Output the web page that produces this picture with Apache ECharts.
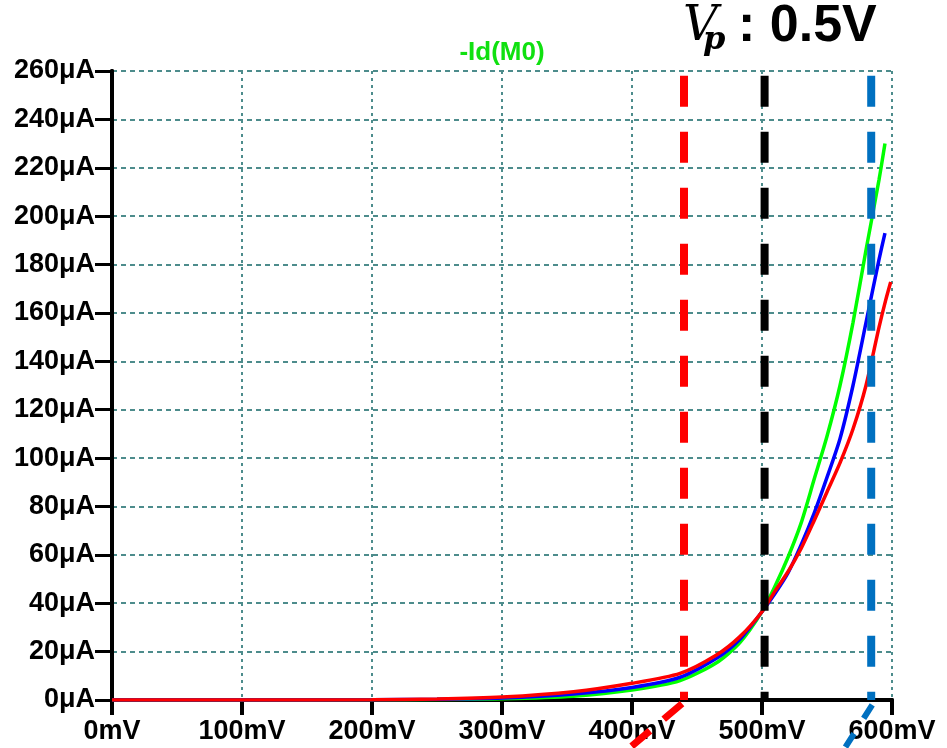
<!DOCTYPE html>
<html>
<head>
<meta charset="utf-8">
<script src="https://cdn.jsdelivr.net/npm/echarts@6/dist/echarts.min.js"></script>
<style>
  html, body { margin: 0; padding: 0; background: #fff; }
  #vis { width: 947px; height: 748px; }
</style>
</head>
<body>
<div id="vis"></div>
<script>
// drain current -Id(M0) vs gate voltage, three corners
const xTicksMv = [0, 100, 200, 300, 400, 500, 600];
const yTicksUa = [0, 20, 40, 60, 80, 100, 120, 140, 160, 180, 200, 220, 240, 260];

const greenCurve = [
  [0, 0], [100, 0], [200, 0.1], [250, 0.2], [300, 0.5], [355, 1.6], [400, 4.1],
  [437, 8.0], [465, 15.4], [483, 23.7], [500, 36.5], [510, 47], [520, 59],
  [530, 73], [540, 91], [550, 109], [560, 130], [570, 156], [580, 186],
  [590, 215], [594.6, 230]
];
const blueCurve = [
  [0, 0], [100, 0], [200, 0.1], [250, 0.3], [300, 0.8], [355, 2.5], [400, 5.2],
  [437, 9.4], [465, 17.2], [483, 25.1], [500, 36.5], [510, 44], [520, 52.5],
  [530, 64], [540, 77], [550, 92], [560, 108], [570, 130], [580, 156],
  [590, 182], [594.6, 193]
];
const redCurve = [
  [0, 0], [100, 0], [200, 0.15], [250, 0.4], [300, 1.2], [355, 3.4], [400, 6.9],
  [437, 11], [465, 18.6], [483, 26.2], [500, 36.5], [510, 45], [520, 53],
  [530, 62.5], [540, 74], [550, 86], [560, 98], [570, 112], [580, 130],
  [590, 154], [595, 165], [599, 172.8]
];

// dashed marker lines (mV) and the arrows leaving the plot below
const markerMv = [440, 502, 584];
const markerTopUa = 258;
const redArrow = [[438.5, -1.5], [378.6, -28.7]];
const blueArrow = [[584.8, -2.0], [553.5, -28.5]];

const chart = echarts.init(document.getElementById('vis'), null, { renderer: 'canvas' });

const labelFont = { color: '#000', fontFamily: 'Liberation Sans', fontWeight: 'bold', fontSize: 27 };
const gridColor = '#4d8c8c';
const markerColors = ['#ff0000', '#000000', '#0070c0'];

function curve(name, data, color) {
  return {
    name: name, type: 'line', data: data, showSymbol: false, smooth: 0.25,
    lineStyle: { color: color, width: 3.5 }, z: 3, animation: false
  };
}

const markerSeries = markerMv.map((mv, i) => ({
  type: 'line', data: [[mv, markerTopUa], [mv, 0]], showSymbol: false,
  lineStyle: { color: markerColors[i], width: 8, type: [31, 25] }, z: 5, animation: false
}));

const options = {
  backgroundColor: '#ffffff',
  animation: false,
  grid: { left: 112, right: 55, top: 71, bottom: 48 },
  xAxis: [
    {
      type: 'value', min: 0, max: 600, interval: 100,
      axisLine: { onZero: false, lineStyle: { color: '#000', width: 4 } },
      axisTick: { length: 15, lineStyle: { color: '#000', width: 4 } },
      axisLabel: Object.assign({ margin: 18, formatter: v => v + 'mV',
        customValues: xTicksMv }, labelFont),
      splitLine: { show: true, lineStyle: { color: gridColor, width: 2, type: [3, 4] } }
    },
    {
      type: 'value', position: 'top', min: 0, max: 600,
      axisLine: { show: true, lineStyle: { color: '#000', width: 4 } },
      axisTick: { show: false }, axisLabel: { show: false }, splitLine: { show: false }
    }
  ],
  yAxis: [
    {
      type: 'value', min: 0, max: 260, interval: 20,
      axisLine: { show: true, onZero: false, lineStyle: { color: '#000', width: 4 } },
      axisTick: { show: true, length: 17, lineStyle: { color: '#000', width: 3 } },
      axisLabel: Object.assign({ margin: 17, formatter: v => v + 'μA',
        customValues: yTicksUa }, labelFont),
      splitLine: { show: true, lineStyle: { color: gridColor, width: 2, type: [5, 4] } }
    },
    {
      type: 'value', position: 'right', min: 0, max: 260,
      axisLine: { show: true, lineStyle: { color: '#000', width: 4 } },
      axisTick: { show: false }, axisLabel: { show: false }, splitLine: { show: false }
    }
  ],
  graphic: [
    { type: 'text', x: 502, y: 53, style: { text: '-Id(M0)', align: 'center', verticalAlign: 'middle',
      font: 'bold 26px "Liberation Sans"', fill: '#10e010' } },
    { type: 'text', x: 683, y: 28, style: { text: 'V', align: 'left', verticalAlign: 'middle',
      font: 'italic 48px "DejaVu Serif"', fill: '#000' } },
    { type: 'text', x: 703, y: 41, style: { text: 'p', align: 'left', verticalAlign: 'middle',
      font: 'italic bold 32px "DejaVu Serif"', fill: '#000' } },
    { type: 'text', x: 738, y: 27, style: { text: ': 0.5V', align: 'left', verticalAlign: 'middle',
      font: 'bold 52px "Liberation Sans"', fill: '#000' } }
  ],
  series: [
    curve('green', greenCurve, '#00ff00'),
    curve('blue', blueCurve, '#0000ff'),
    curve('red', redCurve, '#ff0000'),
    ...markerSeries,
    {
      type: 'line', data: redArrow, showSymbol: false, clip: false,
      lineStyle: { color: '#ff0000', width: 7, type: [24, 18] }, z: 5, animation: false
    },
    {
      type: 'line', data: blueArrow, showSymbol: false, clip: false,
      lineStyle: { color: '#0070c0', width: 6, type: [16, 18] }, z: 5, animation: false
    }
  ]
};

chart.setOption(options);
window.addEventListener('resize', () => chart.resize());
</script>
</body>
</html>
